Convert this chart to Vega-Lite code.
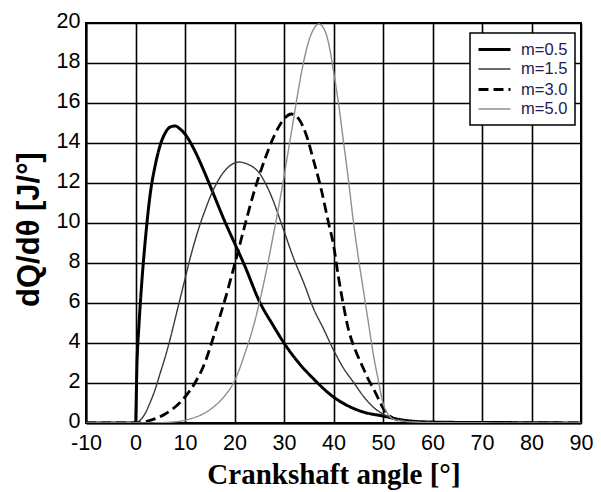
{
  "$schema": "https://vega.github.io/schema/vega-lite/v6.json",
  "width": 495,
  "height": 400,
  "autosize": "none",
  "padding": {"left": 86, "top": 23, "right": 20, "bottom": 69},
  "background": "white",
  "config": {
    "view": {"stroke": "black", "strokeWidth": 2},
    "axis": {
      "domainColor": "black",
      "domainWidth": 2,
      "gridColor": "black",
      "gridWidth": 1.6,
      "gridOpacity": 1,
      "ticks": false,
      "tickSize": 0,
      "labelFlush": false,
      "labelFont": "Liberation Sans",
      "labelFontSize": 21.5,
      "labelColor": "black",
      "labelExpr": "'' + datum.value",
      "titleColor": "black"
    },
    "legend": {
      "orient": "none",
      "legendX": 384,
      "legendY": 10,
      "strokeColor": "black",
      "strokeWidth": 1.5,
      "fillColor": "white",
      "padding": 7,
      "rowPadding": 2,
      "labelFont": "Liberation Sans",
      "labelFontSize": 16.5,
      "labelColor": "#221c4f",
      "labelOffset": 17,
      "symbolOffset": 8,
      "symbolType": "M-2,0H2",
      "symbolSize": 256
    }
  },
  "data": {
    "values": [
      {"m": "m=0.5", "angle": -10, "q": 0}, {"m": "m=0.5", "angle": -5, "q": 0}, {"m": "m=0.5", "angle": 0, "q": 0},
      {"m": "m=0.5", "angle": 0.3, "q": 3.0}, {"m": "m=0.5", "angle": 0.7, "q": 4.9}, {"m": "m=0.5", "angle": 1.2, "q": 6.8},
      {"m": "m=0.5", "angle": 2, "q": 9.2}, {"m": "m=0.5", "angle": 3, "q": 11.5}, {"m": "m=0.5", "angle": 4, "q": 12.9},
      {"m": "m=0.5", "angle": 5, "q": 13.9}, {"m": "m=0.5", "angle": 6, "q": 14.5}, {"m": "m=0.5", "angle": 7, "q": 14.8},
      {"m": "m=0.5", "angle": 8, "q": 14.85}, {"m": "m=0.5", "angle": 9, "q": 14.7}, {"m": "m=0.5", "angle": 10, "q": 14.45},
      {"m": "m=0.5", "angle": 12, "q": 13.6}, {"m": "m=0.5", "angle": 14, "q": 12.5}, {"m": "m=0.5", "angle": 16, "q": 11.3},
      {"m": "m=0.5", "angle": 18, "q": 10.1}, {"m": "m=0.5", "angle": 20, "q": 9.0}, {"m": "m=0.5", "angle": 22, "q": 7.9},
      {"m": "m=0.5", "angle": 25, "q": 6.1}, {"m": "m=0.5", "angle": 28, "q": 4.8}, {"m": "m=0.5", "angle": 30, "q": 4.0},
      {"m": "m=0.5", "angle": 33, "q": 3.0}, {"m": "m=0.5", "angle": 36, "q": 2.2}, {"m": "m=0.5", "angle": 40, "q": 1.3},
      {"m": "m=0.5", "angle": 43, "q": 0.85}, {"m": "m=0.5", "angle": 46, "q": 0.55}, {"m": "m=0.5", "angle": 50, "q": 0.35},
      {"m": "m=0.5", "angle": 54, "q": 0.15}, {"m": "m=0.5", "angle": 58, "q": 0.06}, {"m": "m=0.5", "angle": 65, "q": 0.03},
      {"m": "m=0.5", "angle": 75, "q": 0.02}, {"m": "m=0.5", "angle": 90, "q": 0},

      {"m": "m=1.5", "angle": -10, "q": 0}, {"m": "m=1.5", "angle": 0, "q": 0}, {"m": "m=1.5", "angle": 1, "q": 0.15},
      {"m": "m=1.5", "angle": 2, "q": 0.5}, {"m": "m=1.5", "angle": 3, "q": 1.05}, {"m": "m=1.5", "angle": 4, "q": 1.7},
      {"m": "m=1.5", "angle": 5, "q": 2.5}, {"m": "m=1.5", "angle": 6, "q": 3.3}, {"m": "m=1.5", "angle": 7, "q": 4.2},
      {"m": "m=1.5", "angle": 8, "q": 5.2}, {"m": "m=1.5", "angle": 9, "q": 6.2}, {"m": "m=1.5", "angle": 10, "q": 7.2},
      {"m": "m=1.5", "angle": 11, "q": 8.2}, {"m": "m=1.5", "angle": 12, "q": 9.1}, {"m": "m=1.5", "angle": 13, "q": 9.9},
      {"m": "m=1.5", "angle": 14, "q": 10.6}, {"m": "m=1.5", "angle": 15, "q": 11.25}, {"m": "m=1.5", "angle": 16, "q": 11.8},
      {"m": "m=1.5", "angle": 17, "q": 12.25}, {"m": "m=1.5", "angle": 18, "q": 12.6}, {"m": "m=1.5", "angle": 19, "q": 12.85},
      {"m": "m=1.5", "angle": 20, "q": 13.0}, {"m": "m=1.5", "angle": 21, "q": 13.05}, {"m": "m=1.5", "angle": 22, "q": 13.0},
      {"m": "m=1.5", "angle": 23, "q": 12.9}, {"m": "m=1.5", "angle": 24, "q": 12.75}, {"m": "m=1.5", "angle": 25, "q": 12.5},
      {"m": "m=1.5", "angle": 26, "q": 12.1}, {"m": "m=1.5", "angle": 27, "q": 11.6}, {"m": "m=1.5", "angle": 28, "q": 11.0},
      {"m": "m=1.5", "angle": 29, "q": 10.3}, {"m": "m=1.5", "angle": 30, "q": 9.6}, {"m": "m=1.5", "angle": 32, "q": 8.2},
      {"m": "m=1.5", "angle": 34, "q": 7.0}, {"m": "m=1.5", "angle": 36, "q": 5.7}, {"m": "m=1.5", "angle": 38, "q": 4.7},
      {"m": "m=1.5", "angle": 40, "q": 3.65}, {"m": "m=1.5", "angle": 42, "q": 2.75}, {"m": "m=1.5", "angle": 44, "q": 2.05},
      {"m": "m=1.5", "angle": 46, "q": 1.35}, {"m": "m=1.5", "angle": 48, "q": 0.8}, {"m": "m=1.5", "angle": 50, "q": 0.45},
      {"m": "m=1.5", "angle": 52, "q": 0.25}, {"m": "m=1.5", "angle": 55, "q": 0.1}, {"m": "m=1.5", "angle": 60, "q": 0.03},
      {"m": "m=1.5", "angle": 75, "q": 0.01}, {"m": "m=1.5", "angle": 90, "q": 0},

      {"m": "m=3.0", "angle": -10, "q": 0}, {"m": "m=3.0", "angle": 0, "q": 0}, {"m": "m=3.0", "angle": 2, "q": 0.06},
      {"m": "m=3.0", "angle": 4, "q": 0.22}, {"m": "m=3.0", "angle": 6, "q": 0.45}, {"m": "m=3.0", "angle": 8, "q": 0.8},
      {"m": "m=3.0", "angle": 10, "q": 1.3}, {"m": "m=3.0", "angle": 12, "q": 2.0}, {"m": "m=3.0", "angle": 14, "q": 3.0},
      {"m": "m=3.0", "angle": 16, "q": 4.5}, {"m": "m=3.0", "angle": 18, "q": 6.1}, {"m": "m=3.0", "angle": 20, "q": 7.9},
      {"m": "m=3.0", "angle": 22, "q": 9.8}, {"m": "m=3.0", "angle": 24, "q": 11.6}, {"m": "m=3.0", "angle": 26, "q": 13.1},
      {"m": "m=3.0", "angle": 28, "q": 14.35}, {"m": "m=3.0", "angle": 30, "q": 15.2}, {"m": "m=3.0", "angle": 31.5, "q": 15.45},
      {"m": "m=3.0", "angle": 33, "q": 15.2}, {"m": "m=3.0", "angle": 34.5, "q": 14.4}, {"m": "m=3.0", "angle": 36, "q": 13.1},
      {"m": "m=3.0", "angle": 37.5, "q": 11.7}, {"m": "m=3.0", "angle": 39, "q": 10.0}, {"m": "m=3.0", "angle": 40, "q": 8.9},
      {"m": "m=3.0", "angle": 41, "q": 7.3}, {"m": "m=3.0", "angle": 42, "q": 5.9}, {"m": "m=3.0", "angle": 43, "q": 4.7},
      {"m": "m=3.0", "angle": 44, "q": 3.9}, {"m": "m=3.0", "angle": 45, "q": 3.3}, {"m": "m=3.0", "angle": 46, "q": 2.75},
      {"m": "m=3.0", "angle": 47, "q": 2.2}, {"m": "m=3.0", "angle": 48, "q": 1.75}, {"m": "m=3.0", "angle": 49, "q": 1.25},
      {"m": "m=3.0", "angle": 50, "q": 0.75}, {"m": "m=3.0", "angle": 51, "q": 0.42}, {"m": "m=3.0", "angle": 52, "q": 0.25},
      {"m": "m=3.0", "angle": 54, "q": 0.1}, {"m": "m=3.0", "angle": 58, "q": 0.03}, {"m": "m=3.0", "angle": 70, "q": 0.01},
      {"m": "m=3.0", "angle": 90, "q": 0},

      {"m": "m=5.0", "angle": -10, "q": 0}, {"m": "m=5.0", "angle": 0, "q": 0}, {"m": "m=5.0", "angle": 4, "q": 0.01},
      {"m": "m=5.0", "angle": 8, "q": 0.06}, {"m": "m=5.0", "angle": 10, "q": 0.14}, {"m": "m=5.0", "angle": 12, "q": 0.28},
      {"m": "m=5.0", "angle": 14, "q": 0.5}, {"m": "m=5.0", "angle": 16, "q": 0.85}, {"m": "m=5.0", "angle": 18, "q": 1.35},
      {"m": "m=5.0", "angle": 20, "q": 2.1}, {"m": "m=5.0", "angle": 22, "q": 3.4}, {"m": "m=5.0", "angle": 24, "q": 5.0},
      {"m": "m=5.0", "angle": 26, "q": 7.1}, {"m": "m=5.0", "angle": 28, "q": 9.6}, {"m": "m=5.0", "angle": 30, "q": 12.3},
      {"m": "m=5.0", "angle": 31, "q": 13.8}, {"m": "m=5.0", "angle": 32, "q": 15.3}, {"m": "m=5.0", "angle": 33, "q": 16.8},
      {"m": "m=5.0", "angle": 34, "q": 18.1}, {"m": "m=5.0", "angle": 35, "q": 19.1}, {"m": "m=5.0", "angle": 36, "q": 19.7},
      {"m": "m=5.0", "angle": 37, "q": 19.95}, {"m": "m=5.0", "angle": 38, "q": 19.75}, {"m": "m=5.0", "angle": 39, "q": 19.0},
      {"m": "m=5.0", "angle": 40, "q": 17.6}, {"m": "m=5.0", "angle": 41, "q": 16.0}, {"m": "m=5.0", "angle": 42, "q": 14.1},
      {"m": "m=5.0", "angle": 43, "q": 12.2}, {"m": "m=5.0", "angle": 44, "q": 10.1}, {"m": "m=5.0", "angle": 45, "q": 8.3},
      {"m": "m=5.0", "angle": 46, "q": 6.7}, {"m": "m=5.0", "angle": 47, "q": 5.1}, {"m": "m=5.0", "angle": 48, "q": 3.5},
      {"m": "m=5.0", "angle": 49, "q": 2.2}, {"m": "m=5.0", "angle": 50, "q": 1.0}, {"m": "m=5.0", "angle": 51, "q": 0.45},
      {"m": "m=5.0", "angle": 52, "q": 0.2}, {"m": "m=5.0", "angle": 55, "q": 0.07}, {"m": "m=5.0", "angle": 60, "q": 0.02},
      {"m": "m=5.0", "angle": 90, "q": 0}
    ]
  },
  "mark": {"type": "line", "interpolate": "monotone", "clip": true},
  "encoding": {
    "x": {
      "field": "angle",
      "type": "quantitative",
      "scale": {"domain": [-10, 90], "nice": false},
      "axis": {
        "values": [-10, 0, 10, 20, 30, 40, 50, 60, 70, 80, 90],
        "labelPadding": 9,
        "title": "Crankshaft angle [°]",
        "titleFont": "Liberation Serif",
        "titleFontWeight": "bold",
        "titleFontSize": 29,
        "titleY": 60,
        "titleBaseline": "alphabetic"
      }
    },
    "y": {
      "field": "q",
      "type": "quantitative",
      "scale": {"domain": [0, 20], "nice": false},
      "axis": {
        "values": [0, 2, 4, 6, 8, 10, 12, 14, 16, 18, 20],
        "labelPadding": 6,
        "labelOffset": -2,
        "title": "dQ/dθ [J/°]",
        "titleFont": "Liberation Sans",
        "titleFontWeight": "bold",
        "titleFontSize": 31,
        "titleX": -41,
        "titleY": 206,
        "titleBaseline": "bottom"
      }
    },
    "color": {
      "field": "m",
      "type": "nominal",
      "scale": {"domain": ["m=0.5", "m=1.5", "m=3.0", "m=5.0"], "range": ["#000000", "#3a3a3a", "#000000", "#8f8f8f"]},
      "legend": {"title": null}
    },
    "strokeDash": {
      "field": "m",
      "type": "nominal",
      "scale": {"domain": ["m=0.5", "m=1.5", "m=3.0", "m=5.0"], "range": [[1, 0], [1, 0], [10, 5], [1, 0]]},
      "legend": {"title": null}
    },
    "strokeWidth": {
      "field": "m",
      "type": "nominal",
      "scale": {"type": "ordinal", "domain": ["m=0.5", "m=1.5", "m=3.0", "m=5.0"], "range": [3, 1.4, 2.8, 1.4]},
      "legend": {"title": null}
    }
  }
}
